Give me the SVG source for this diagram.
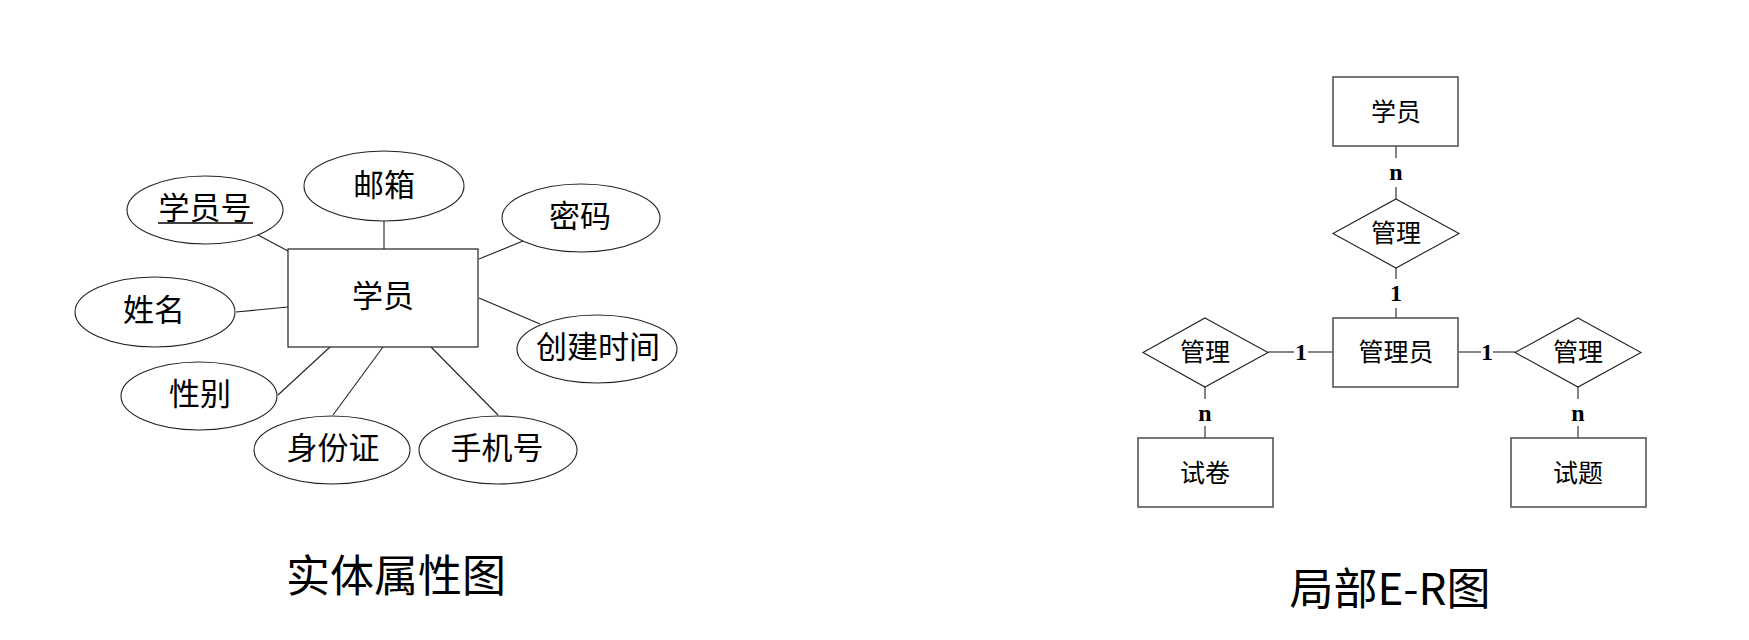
<svg xmlns="http://www.w3.org/2000/svg" width="1749" height="640" viewBox="0 0 1749 640">
<style>
.ent{fill:#fff;stroke:#222;stroke-width:1.2}
.ent2{fill:#fff;stroke:#555;stroke-width:1.6}
.att{fill:#fff;stroke:#222;stroke-width:1.1}
.rel{fill:#fff;stroke:#222;stroke-width:1.1}
.ln{stroke:#222;stroke-width:1.1;fill:none}
.t{font-family:"Noto Sans CJK SC","Liberation Sans",sans-serif;font-size:31px;fill:#000;text-anchor:middle}
.tr{font-family:"Noto Sans CJK SC","Liberation Sans",sans-serif;font-size:25px;fill:#000;text-anchor:middle}
.card{font-family:"Liberation Serif","Noto Sans CJK SC",serif;font-size:24px;font-weight:bold;fill:#000;text-anchor:middle}
.title{font-family:"Noto Sans CJK SC","Liberation Sans",sans-serif;font-size:44px;fill:#000;text-anchor:middle}
</style>
<rect width="1749" height="640" fill="#fff"/>
<g id="connectors">
<line class="ln" x1="258" y1="235" x2="288" y2="251"/>
<line class="ln" x1="384" y1="221" x2="384" y2="249"/>
<line class="ln" x1="479" y1="259" x2="523" y2="241"/>
<line class="ln" x1="236" y1="312" x2="288" y2="307"/>
<line class="ln" x1="479" y1="298" x2="540" y2="324"/>
<line class="ln" x1="330" y1="347" x2="278" y2="395"/>
<line class="ln" x1="383" y1="347" x2="333" y2="415"/>
<line class="ln" x1="431" y1="347" x2="498" y2="415"/>
<line class="ln" x1="1396" y1="146" x2="1396" y2="158"/>
<line class="ln" x1="1396" y1="187" x2="1396" y2="199"/>
<line class="ln" x1="1396" y1="268" x2="1396" y2="279"/>
<line class="ln" x1="1396" y1="308" x2="1396" y2="318"/>
<line class="ln" x1="1268" y1="352" x2="1294" y2="352"/>
<line class="ln" x1="1308" y1="352" x2="1333" y2="352"/>
<line class="ln" x1="1459" y1="352" x2="1481" y2="352"/>
<line class="ln" x1="1493" y1="352" x2="1515" y2="352"/>
<line class="ln" x1="1205" y1="387" x2="1205" y2="399"/>
<line class="ln" x1="1205" y1="426" x2="1205" y2="438"/>
<line class="ln" x1="1578" y1="387" x2="1578" y2="399"/>
<line class="ln" x1="1578" y1="426" x2="1578" y2="438"/>
<text class="card" x="1396" y="180">n</text>
<text class="card" x="1396" y="301">1</text>
<text class="card" x="1301" y="360">1</text>
<text class="card" x="1487" y="360">1</text>
<text class="card" x="1205" y="421">n</text>
<text class="card" x="1578" y="421">n</text>
</g>
<g id="student-entity">
<rect class="ent" x="288" y="249" width="190" height="98"/>
<text class="t" x="383" y="307">学员</text>
</g>
<g id="attr-xueyuanhao">
<ellipse class="att" cx="205" cy="210" rx="78" ry="34"/>
<text class="t" x="205" y="219">学员号</text>
<line x1="158" y1="223" x2="253" y2="223" stroke="#000" stroke-width="1.5"/>
</g>
<g id="attr-youxiang">
<ellipse class="att" cx="384" cy="186" rx="80" ry="35"/>
<text class="t" x="384" y="196">邮箱</text>
</g>
<g id="attr-mima">
<ellipse class="att" cx="581" cy="218" rx="79" ry="34"/>
<text class="t" x="580" y="227">密码</text>
</g>
<g id="attr-xingming">
<ellipse class="att" cx="155" cy="312" rx="80" ry="35"/>
<text class="t" x="154" y="321">姓名</text>
</g>
<g id="attr-chuangjianshijian">
<ellipse class="att" cx="597" cy="349" rx="80" ry="34"/>
<text class="t" x="598" y="358">创建时间</text>
</g>
<g id="attr-xingbie">
<ellipse class="att" cx="199" cy="396" rx="78" ry="34"/>
<text class="t" x="200" y="405">性别</text>
</g>
<g id="attr-shenfenzheng">
<ellipse class="att" cx="332" cy="450" rx="78" ry="34"/>
<text class="t" x="333" y="459">身份证</text>
</g>
<g id="attr-shoujihao">
<ellipse class="att" cx="498" cy="450" rx="79" ry="34"/>
<text class="t" x="497" y="459">手机号</text>
</g>
<g id="er-student">
<rect class="ent2" x="1333" y="77" width="125" height="69"/>
<text class="tr" x="1396" y="121">学员</text>
</g>
<g id="rel-top">
<polygon class="rel" points="1396,199 1459,233.5 1396,268 1333,233.5"/>
<text class="tr" x="1396" y="242">管理</text>
</g>
<g id="er-admin">
<rect class="ent2" x="1333" y="318" width="125" height="69"/>
<text class="tr" x="1396" y="361">管理员</text>
</g>
<g id="rel-left">
<polygon class="rel" points="1205,318 1268,352.5 1205,387 1143,352.5"/>
<text class="tr" x="1205" y="361">管理</text>
</g>
<g id="rel-right">
<polygon class="rel" points="1578,318 1641,352.5 1578,387 1515,352.5"/>
<text class="tr" x="1578" y="361">管理</text>
</g>
<g id="er-paper">
<rect class="ent2" x="1138" y="438" width="135" height="69"/>
<text class="tr" x="1205" y="482">试卷</text>
</g>
<g id="er-question">
<rect class="ent2" x="1511" y="438" width="135" height="69"/>
<text class="tr" x="1578" y="482">试题</text>
</g>
<g id="titles">
<text class="title" x="396" y="592">实体属性图</text>
<text class="title" x="1390" y="605">局部E-R图</text>
</g>
</svg>
